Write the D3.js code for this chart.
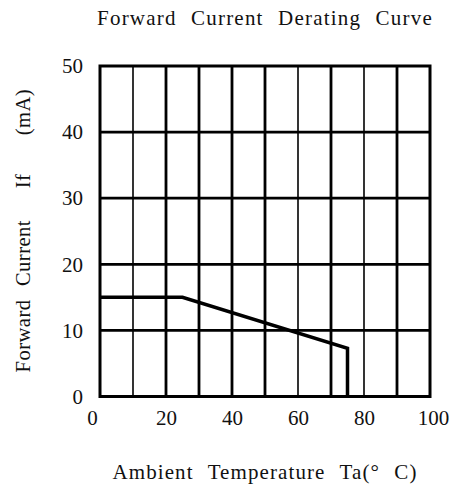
<!DOCTYPE html>
<html>
<head>
<meta charset="utf-8">
<script src="https://cdn.jsdelivr.net/npm/d3@7"></script>
<style>
  html, body { margin: 0; padding: 0; background: #fff; }
  svg { display: block; }
  text { font-family: "Liberation Serif", "Times New Roman", serif; fill: #111; }
</style>
</head>
<body>
<svg id="chart" width="460" height="490"></svg>
<script>
// ---- data ----
const chartTitle = "Forward Current Derating Curve";
const xTitle = "Ambient Temperature Ta(° C)";
const yTitle = "Forward Current If (mA)";
const xTickValues = [0, 20, 40, 60, 80, 100];
const yTickValues = [0, 10, 20, 30, 40, 50];
const xGridValues = [10, 20, 30, 40, 50, 60, 70, 80, 90];
const yGridValues = [10, 20, 30, 40];
const curveTemp = [0, 25, 75, 75];
const curveCurrent = [15, 15, 7.3, 0];

// ---- layout ----
const svg = d3.select("#chart");
const mLeft = 100, mRight = 430, mTop = 66, mBottom = 396.5;
const x = d3.scaleLinear().domain([0, 100]).range([mLeft, mRight]);
const y = d3.scaleLinear().domain([0, 50]).range([mBottom, mTop]);

// grid
const thinX = new Set([10, 60, 80]);
svg.append("g").selectAll("line").data(xGridValues).join("line")
  .attr("x1", d => x(d)).attr("x2", d => x(d))
  .attr("y1", mTop).attr("y2", mBottom)
  .attr("stroke", "#000")
  .attr("stroke-width", d => thinX.has(d) ? 1.6 : 2.8);
svg.append("g").selectAll("line").data(yGridValues).join("line")
  .attr("x1", mLeft).attr("x2", mRight)
  .attr("y1", d => y(d)).attr("y2", d => y(d))
  .attr("stroke", "#000").attr("stroke-width", 2.8);

// border
svg.append("rect")
  .attr("x", mLeft).attr("y", mTop)
  .attr("width", mRight - mLeft).attr("height", mBottom - mTop)
  .attr("fill", "none").attr("stroke", "#000").attr("stroke-width", 3);

// curve
const pts = curveTemp.map((t, i) => [t, curveCurrent[i]]);
svg.append("path")
  .datum(pts)
  .attr("d", d3.line().x(d => x(d[0])).y(d => y(d[1])))
  .attr("fill", "none").attr("stroke", "#000")
  .attr("stroke-width", 3.5).attr("stroke-linejoin", "miter");

// axes
const xAxis = d3.axisBottom(x).tickValues(xTickValues).tickSize(0).tickPadding(0).tickFormat(d3.format("d"));
const gx = svg.append("g").attr("transform", `translate(0,${mBottom + 14})`).call(xAxis);
gx.select(".domain").remove();
gx.selectAll("text").attr("font-size", 21).attr("dy", "0.71em")
  .attr("dx", d => d === 0 ? -8 : (d === 100 ? 3 : 0))
  .style("font-family", "Liberation Serif").attr("fill", "#111");

const yAxis = d3.axisLeft(y).tickValues(yTickValues).tickSize(0).tickPadding(0).tickFormat(d3.format("d"));
const gy = svg.append("g").attr("transform", `translate(${mLeft - 17},0)`).call(yAxis);
gy.select(".domain").remove();
gy.selectAll("text").attr("font-size", 21)
  .style("font-family", "Liberation Serif").attr("fill", "#111");

// titles
svg.append("text")
  .attr("x", 265).attr("y", 25)
  .attr("text-anchor", "middle")
  .attr("font-size", 21)
  .attr("word-spacing", 8)
  .attr("letter-spacing", 1.2)
  .text(chartTitle);

svg.append("text")
  .attr("x", 265).attr("y", 479)
  .attr("text-anchor", "middle")
  .attr("font-size", 21)
  .attr("word-spacing", 8)
  .attr("letter-spacing", 1.1)
  .text(xTitle);

// y title: words spread along the axis as in the reference
const yWordCenters = [336, 253, 181, 112];
const yt = svg.append("text")
  .attr("transform", "translate(30,0) rotate(-90)")
  .attr("text-anchor", "middle")
  .attr("font-size", 20.5)
  .attr("letter-spacing", 0.5);
yt.selectAll("tspan").data(yTitle.split(" ")).join("tspan")
  .attr("x", (d, i) => -yWordCenters[i])
  .attr("y", 0)
  .text(d => d);
</script>
</body>
</html>
